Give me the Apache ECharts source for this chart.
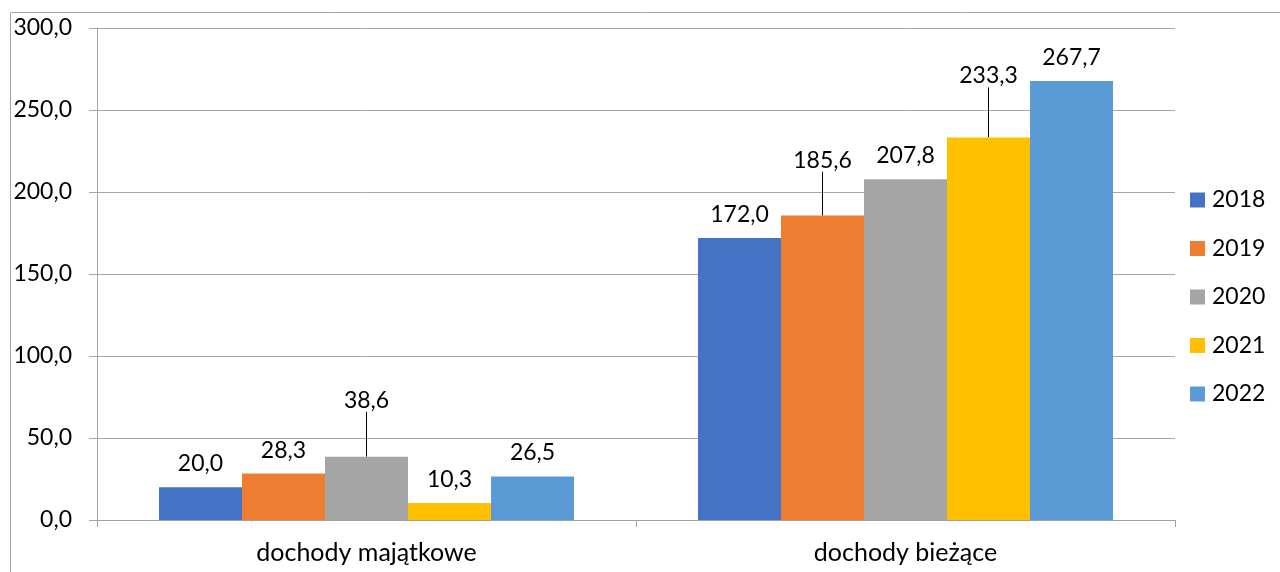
<!DOCTYPE html>
<html>
<head>
<meta charset="utf-8">
<script src="https://cdn.jsdelivr.net/npm/echarts@6/dist/echarts.min.js"></script>
<style>
html,body{margin:0;padding:0;background:#fff;}
#chart{width:1280px;height:572px;}
</style>
</head>
<body>
<div id="chart"></div>
<script>
var categories = ['dochody majątkowe', 'dochody bieżące'];
var years = ['2018', '2019', '2020', '2021', '2022'];
var values2018 = [20.0, 172.0];
var values2019 = [28.3, 185.6];
var values2020 = [38.6, 207.8];
var values2021 = [10.3, 233.3];
var values2022 = [26.5, 267.7];
var yTicks = [0, 50, 100, 150, 200, 250, 300];

var seriesValues = [values2018, values2019, values2020, values2021, values2022];
var colors = ['#4472C4', '#ED7D31', '#A5A5A5', '#FFC000', '#5B9BD5'];
// labels moved upward with a leader line: [seriesIndex][dataIndex] = dy
var callouts = { 2: { 0: -33 }, 1: { 1: -32 }, 3: { 1: -38 } };

function fmt(v) { return v.toFixed(1).replace('.', ','); }

var FONT = 'Lato';
var chart = echarts.init(document.getElementById('chart'));

var series = years.map(function (y, si) {
  return {
    name: y,
    type: 'bar',
    barGap: '0%',
    barCategoryGap: '23%',
    itemStyle: { color: colors[si] },
    data: seriesValues[si].map(function (v, di) {
      var item = { value: v };
      if (callouts[si] && callouts[si][di] !== undefined) {
        item.labelLine = { show: true, lineStyle: { color: '#000', width: 1 } };
      }
      return item;
    }),
    label: {
      show: true,
      position: 'top',
      distance: 12,
      fontFamily: FONT,
      fontSize: 23,
      color: '#000',
      formatter: function (p) { return fmt(p.value); }
    },
    labelLine: { show: false, lineStyle: { color: '#000', width: 1 } },
    labelLayout: function (params) {
      var c = callouts[si];
      if (c && c[params.dataIndex] !== undefined) {
        return { dy: c[params.dataIndex] };
      }
      return {};
    }
  };
});

chart.setOption({
  animation: false,
  backgroundColor: '#fff',
  graphic: [{
    type: 'rect',
    left: 8, top: 10,
    shape: { x: 0, y: 0, width: 1400, height: 700 },
    style: { fill: 'none', stroke: '#A6A6A6', lineWidth: 1 },
    silent: true
  }],
  grid: { left: 97, right: 105, top: 28, bottom: 52 },
  legend: {
    orient: 'vertical',
    left: 1190,
    top: 188,
    padding: 0,
    itemWidth: 15,
    itemHeight: 15,
    itemGap: 24.5,
    icon: 'rect',
    textStyle: { fontFamily: FONT, fontSize: 23, color: '#000', lineHeight: 24, padding: [0, 0, 0, 2] },
    data: years
  },
  xAxis: {
    type: 'category',
    data: categories,
    axisLine: { show: true, lineStyle: { color: '#A0A0A0', width: 1 } },
    axisTick: { show: true, length: 7, lineStyle: { color: '#A0A0A0' } },
    axisLabel: { fontFamily: FONT, fontSize: 25, color: '#000', margin: 20 },
    splitLine: { show: false }
  },
  yAxis: {
    type: 'value',
    min: yTicks[0],
    max: yTicks[yTicks.length - 1],
    interval: yTicks[1] - yTicks[0],
    axisLine: { show: true, lineStyle: { color: '#A6A6A6', width: 1 } },
    axisTick: { show: true, length: 8, lineStyle: { color: '#A6A6A6' } },
    axisLabel: { fontFamily: FONT, fontSize: 23, color: '#000', margin: 25, formatter: function (v) { return fmt(v); } },
    splitLine: { show: true, lineStyle: { color: '#A6A6A6', width: 1 } }
  },
  series: series
});
</script>
</body>
</html>
